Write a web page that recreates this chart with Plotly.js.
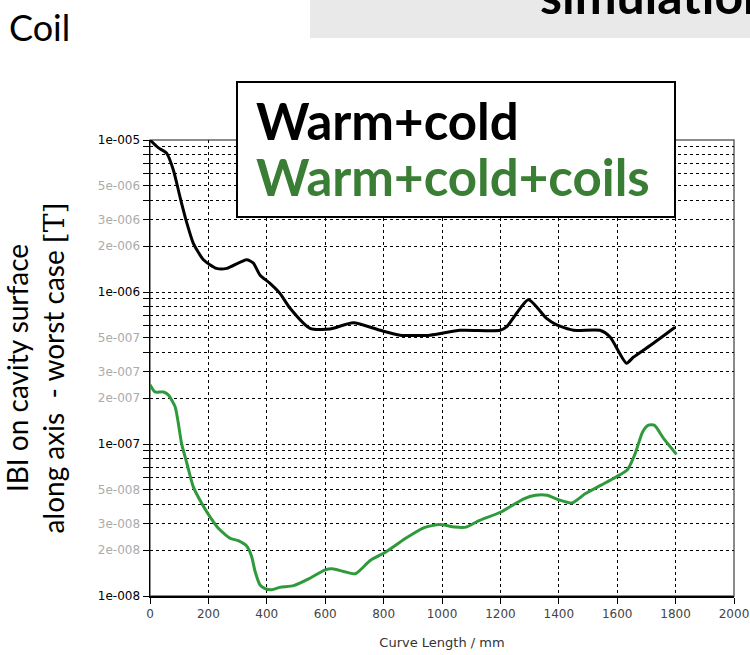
<!DOCTYPE html>
<html>
<head>
<meta charset="utf-8">
<script src="https://cdn.plot.ly/plotly-3.0.1.min.js"></script>
<style>html,body{margin:0;padding:0;background:#fff;}#chart{width:750px;height:655px;}</style>
</head>
<body>
<div id="chart"></div>
<script>
// Warm+cold (black)
const warmColdX = [0, 28, 57, 80, 103, 126, 148, 183, 228, 263, 331, 354, 377, 411, 445, 479, 548, 616, 696, 788, 856, 959, 1062, 1199, 1222, 1296, 1358, 1393, 1450, 1541, 1575, 1632, 1655, 1724, 1798];
const warmColdY = [1.0e-5, 8.9e-6, 8.2e-6, 6.35e-6, 4.2e-6, 2.85e-6, 2.1e-6, 1.63e-6, 1.43e-6, 1.43e-6, 1.63e-6, 1.55e-6, 1.29e-6, 1.14e-6, 9.8e-7, 7.85e-7, 5.77e-7, 5.7e-7, 6.28e-7, 5.6e-7, 5.2e-7, 5.2e-7, 5.6e-7, 5.6e-7, 5.92e-7, 8.9e-7, 6.7e-7, 6.07e-7, 5.6e-7, 5.6e-7, 5.08e-7, 3.4e-7, 3.72e-7, 4.6e-7, 5.86e-7];

// Warm+cold+coils (green)
const coilsX = [0, 17, 46, 63, 86, 97, 108, 126, 148, 177, 205, 234, 274, 302, 331, 348, 360, 377, 394, 417, 445, 492, 545, 598, 624, 663, 703, 755, 808, 873, 939, 992, 1044, 1083, 1123, 1202, 1280, 1320, 1360, 1399, 1445, 1490, 1543, 1596, 1635, 1661, 1687, 1707, 1727, 1760, 1803];
const coilsY = [2.45e-7, 2.2e-7, 2.2e-7, 2.1e-7, 1.76e-7, 1.37e-7, 1.01e-7, 7.5e-8, 5.24e-8, 4.07e-8, 3.33e-8, 2.79e-8, 2.4e-8, 2.31e-8, 2.13e-8, 1.82e-8, 1.45e-8, 1.18e-8, 1.12e-8, 1.1e-8, 1.14e-8, 1.17e-8, 1.3e-8, 1.48e-8, 1.51e-8, 1.45e-8, 1.4e-8, 1.72e-8, 1.95e-8, 2.38e-8, 2.82e-8, 2.95e-8, 2.84e-8, 2.84e-8, 3.11e-8, 3.57e-8, 4.36e-8, 4.6e-8, 4.6e-8, 4.3e-8, 4.09e-8, 4.7e-8, 5.34e-8, 6.07e-8, 6.78e-8, 8.6e-8, 1.2e-7, 1.33e-7, 1.33e-7, 1.08e-7, 8.55e-8];

// Axis ticks
const xTickVals = [0, 200, 400, 600, 800, 1000, 1200, 1400, 1600, 1800, 2000];
const decades = [-8, -7, -6, -5];
const mantissas = [1, 2, 3, 4, 5, 6, 7, 8, 9];
const labelledMantissas = [1, 2, 3, 5];

const legendNames = ["Warm+cold", "Warm+cold+coils"];

const yTickVals = [];
const yTickText = [];
decades.forEach(function (d) {
  mantissas.forEach(function (m) {
    if (d === -5 && m > 1) return;
    const v = m * Math.pow(10, d);
    yTickVals.push(v);
    if (labelledMantissas.indexOf(m) >= 0) {
      const expStr = (d < 0 ? '-' : '+') + String(Math.abs(d)).padStart(3, '0');
      const lbl = m + 'e' + expStr;
      yTickText.push(m === 1 ? lbl : '<span style="color:#ababab">' + lbl + '</span>');
    } else {
      yTickText.push('');
    }
  });
});

const traces = [
  {x: warmColdX, y: warmColdY, type: 'scatter', mode: 'lines', name: legendNames[0],
   line: {color: '#000000', width: 3, shape: 'spline', smoothing: 0.6}},
  {x: coilsX, y: coilsY, type: 'scatter', mode: 'lines', name: legendNames[1],
   line: {color: '#2f9a3c', width: 3, shape: 'spline', smoothing: 0.6}}
];

const layout = {
  width: 750, height: 655,
  margin: {l: 150, r: 16, t: 140, b: 59},
  paper_bgcolor: '#ffffff', plot_bgcolor: '#ffffff',
  showlegend: false,
  xaxis: {
    range: [0, 2000], tickvals: xTickVals, ticks: 'outside', ticklen: 6, tickcolor: '#000',
    showline: true, linecolor: '#000', linewidth: 1.5,
    showgrid: true, gridcolor: '#000', gridwidth: 1, griddash: '3px,3px',
    zeroline: false,
    tickfont: {family: 'DejaVu Sans', size: 12, color: '#444'},
    title: {text: 'Curve Length / mm', font: {family: 'DejaVu Sans', size: 13, color: '#333'}, standoff: 18}
  },
  yaxis: {
    type: 'log', range: [-8, -5], tickvals: yTickVals, ticktext: yTickText,
    ticks: 'outside', ticklen: 6, tickcolor: '#000',
    showline: true, linecolor: '#000', linewidth: 1.5,
    showgrid: true, gridcolor: '#000', gridwidth: 1, griddash: '3px,3px',
    zeroline: false,
    tickfont: {family: 'DejaVu Sans', size: 12, color: '#000'},
    title: {text: 'IBI on cavity surface<br>along axis  - worst case <span style="font-family:DejaVu Serif">[T]</span>',
            font: {family: 'Lato', size: 28, color: '#000'}, standoff: 32}
  },
  shapes: [
    {type: 'rect', xref: 'paper', yref: 'paper', x0: 0, x1: 1, y0: 0, y1: 1,
     line: {color: '#666', width: 1.5}, layer: 'below'},
    {type: 'rect', xref: 'paper', yref: 'paper',
     x0: (310 - 150) / 584, x1: (760 - 150) / 584, y0: (596 - 38) / 456, y1: (596 + 5) / 456,
     line: {width: 0}, fillcolor: '#e9e9e9', layer: 'above'},
    {type: 'rect', xref: 'paper', yref: 'paper',
     x0: (237 - 150) / 584, x1: (675 - 150) / 584, y0: (596 - 217) / 456, y1: (596 - 82) / 456,
     line: {color: '#000', width: 2}, fillcolor: '#ffffff', layer: 'above'}
  ],
  annotations: [
    {text: 'Coil', xref: 'paper', yref: 'paper', x: (7 - 150) / 584, y: (596 - 27) / 456,
     xanchor: 'left', yanchor: 'middle', showarrow: false,
     font: {family: 'Lato', size: 36, color: '#000'}},
    {text: '<b>simulation</b>', xref: 'paper', yref: 'paper', x: (538 - 150) / 584, y: (596 - 27) / 456,
     xanchor: 'left', yanchor: 'bottom', showarrow: false,
     font: {family: 'Lato', size: 50, color: '#000'}},
    {text: '<b>' + legendNames[0] + '</b>', xref: 'paper', yref: 'paper', x: (254 - 150) / 584, y: (596 - 121) / 456,
     xanchor: 'left', yanchor: 'middle', showarrow: false,
     font: {family: 'Lato', size: 51, color: '#000'}},
    {text: '<b>' + legendNames[1] + '</b>', xref: 'paper', yref: 'paper', x: (254 - 150) / 584, y: (596 - 176) / 456,
     xanchor: 'left', yanchor: 'middle', showarrow: false,
     font: {family: 'Lato', size: 51, color: '#3a7d34'}}
  ]
};

Plotly.newPlot('chart', traces, layout, {displayModeBar: false, staticPlot: true});
</script>
</body>
</html>
